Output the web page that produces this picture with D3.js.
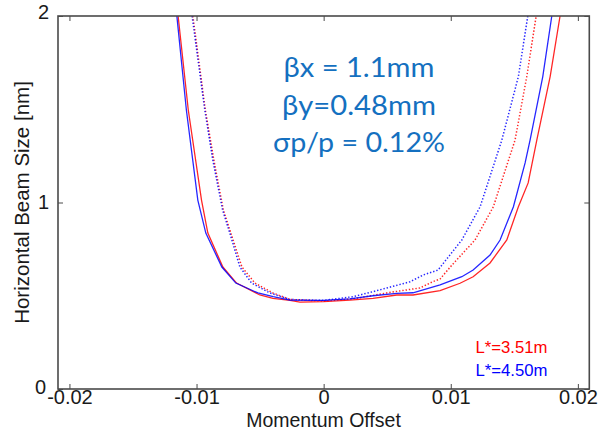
<!DOCTYPE html>
<html>
<head>
<meta charset="utf-8">
<script src="https://cdn.jsdelivr.net/npm/d3@7"></script>
<style>
  html, body { margin: 0; padding: 0; background: #fff; }
  svg { display: block; }
</style>
</head>
<body>
<svg id="chart" width="599" height="430"></svg>
<script>
// Momentum offset (x) and horizontal beam size in nm (y) for each configuration.
const redSolidX = [-0.01145, -0.01065, -0.00961, -0.00911, -0.00793, -0.00685, -0.00502, -0.00399, -0.00265, -0.00187, 0, 0.00207, 0.00388, 0.00575, 0.00703, 0.00916, 0.01073, 0.01176, 0.01309, 0.01441, 0.01532, 0.01609, 0.01677, 0.01782, 0.01860];
const redSolidY = [2.000, 1.496, 1.013, 0.836, 0.654, 0.568, 0.504, 0.486, 0.475, 0.466, 0.469, 0.477, 0.486, 0.504, 0.504, 0.527, 0.567, 0.602, 0.676, 0.799, 0.977, 1.105, 1.335, 1.675, 2.000];

const blueSolidX = [-0.01155, -0.01080, -0.00990, -0.00927, -0.00801, -0.00691, -0.00517, -0.00397, -0.00265, 0, 0.00207, 0.00388, 0.00575, 0.00703, 0.00916, 0.01087, 0.01176, 0.01309, 0.01388, 0.01493, 0.01585, 0.01624, 0.01724, 0.01795];
const blueSolidY = [2.000, 1.496, 1.013, 0.836, 0.654, 0.568, 0.515, 0.495, 0.477, 0.475, 0.483, 0.500, 0.513, 0.516, 0.558, 0.602, 0.638, 0.718, 0.799, 0.977, 1.212, 1.335, 1.675, 2.000];

const redDotX = [-0.01029, -0.00931, -0.00864, -0.00789, -0.00730, -0.00643, -0.00541, -0.00399, -0.00265, 0, 0.00231, 0.00496, 0.00758, 0.00861, 0.00916, 0.01010, 0.01191, 0.01335, 0.01506, 0.01598, 0.01672];
const redDotY = [2.000, 1.496, 1.228, 0.960, 0.836, 0.654, 0.568, 0.515, 0.480, 0.472, 0.483, 0.515, 0.542, 0.576, 0.590, 0.665, 0.799, 0.977, 1.335, 1.675, 2.000];

const blueDotX = [-0.01035, -0.00935, -0.00872, -0.00795, -0.00738, -0.00659, -0.00567, -0.00423, -0.00265, 0, 0.00231, 0.00388, 0.00680, 0.00782, 0.00900, 0.01087, 0.01231, 0.01402, 0.01532, 0.01606];
const blueDotY = [2.000, 1.496, 1.228, 0.960, 0.836, 0.654, 0.568, 0.515, 0.480, 0.475, 0.495, 0.522, 0.575, 0.611, 0.638, 0.799, 0.977, 1.335, 1.675, 2.000];

const xTicks = [-0.02, -0.01, 0, 0.01, 0.02];
const xTickLabels = ["-0.02", "-0.01", "0", "0.01", "0.02"];
const yTicks = [0, 1, 2];
const yTickLabels = ["0", "1", "2"];

const legendLabels = ["L*=3.51m", "L*=4.50m"];
const noteLines = ["βx = 1.1mm", "βy=0.48mm", "σp/p = 0.12%"];

const svg = d3.select("#chart");
const plotLeft = 58, plotRight = 589.3, plotTop = 16, plotBottom = 389;

const x = d3.scaleLinear().domain([-0.0209, 0.0209]).range([plotLeft, plotRight]);
const y = d3.scaleLinear().domain([0, 2]).range([plotBottom, plotTop]);

const RED = "#ff0000", BLUE = "#0000ff", AXIS = "#4a4a4a";

svg.append("defs").append("clipPath").attr("id", "plotClip")
  .append("rect").attr("x", plotLeft).attr("y", plotTop)
  .attr("width", plotRight - plotLeft).attr("height", plotBottom - plotTop);

// Curves
const line = d3.line().x(d => x(d[0])).y(d => y(d[1])).curve(d3.curveLinear);
const series = [
  { xs: redDotX, ys: redDotY, color: RED, dash: "1.4,1.9" },
  { xs: blueDotX, ys: blueDotY, color: BLUE, dash: "1.4,1.9" },
  { xs: redSolidX, ys: redSolidY, color: RED, dash: null },
  { xs: blueSolidX, ys: blueSolidY, color: BLUE, dash: null }
];
const plot = svg.append("g").attr("clip-path", "url(#plotClip)");
series.forEach(s => {
  plot.append("path")
    .datum(s.xs.map((v, i) => [v, s.ys[i]]))
    .attr("d", line)
    .attr("fill", "none")
    .attr("stroke", s.color)
    .attr("stroke-width", s.dash ? 1.5 : 1.3)
    .attr("stroke-dasharray", s.dash)
    .attr("stroke-opacity", 0.85);
});

// Axes: ticks point inward on all four sides, labels on bottom and left
const tickFont = "'Liberation Sans', Arial, Helvetica, sans-serif";
const xBottom = d3.axisBottom(x).tickValues(xTicks).tickSizeInner(-5).tickSizeOuter(0)
  .tickFormat((d, i) => xTickLabels[i]).tickPadding(1);
const xTop = d3.axisTop(x).tickValues(xTicks).tickSizeInner(-5).tickSizeOuter(0).tickFormat("");
const yLeft = d3.axisLeft(y).tickValues(yTicks).tickSizeInner(-5).tickSizeOuter(0)
  .tickFormat((d, i) => yTickLabels[i]).tickPadding(9);
const yRight = d3.axisRight(y).tickValues(yTicks).tickSizeInner(-5).tickSizeOuter(0).tickFormat("");

function styleAxis(g) {
  g.select(".domain").remove();
  g.selectAll(".tick line").attr("stroke", AXIS).attr("stroke-width", 1);
  g.selectAll(".tick text").attr("fill", "#1a1a1a")
    .style("font-family", tickFont).style("font-size", "20px");
}
svg.append("g").attr("transform", `translate(0,${plotBottom})`).call(xBottom).call(styleAxis);
svg.append("g").attr("transform", `translate(0,${plotTop})`).call(xTop).call(styleAxis);
svg.append("g").attr("transform", `translate(${plotLeft},0)`).call(yLeft).call(styleAxis)
  .selectAll(".tick text")
  .attr("x", d => d === 0 ? -12 : -9)
  .attr("dy", d => d === 2 ? "0.1em" : d === 0 ? "0.2em" : "0.32em");
svg.append("g").attr("transform", `translate(${plotRight},0)`).call(yRight).call(styleAxis);

// Frame
svg.append("rect")
  .attr("x", plotLeft).attr("y", plotTop)
  .attr("width", plotRight - plotLeft).attr("height", plotBottom - plotTop)
  .attr("fill", "none").attr("stroke", AXIS).attr("stroke-width", 1.6);

// Axis titles
svg.append("text")
  .attr("x", 323.5).attr("y", 426.5)
  .attr("text-anchor", "middle")
  .style("font-family", tickFont).style("font-size", "19.5px").attr("fill", "#1a1a1a")
  .text("Momentum Offset");
svg.append("text")
  .attr("transform", `translate(29,${(plotTop + plotBottom) / 2}) rotate(-90)`)
  .attr("text-anchor", "middle")
  .style("font-family", tickFont).style("font-size", "20.5px").attr("fill", "#1a1a1a")
  .text("Horizontal Beam Size [nm]");

// Beam parameters
const noteWidths = [151, 154, 172];
const noteBase = [77, 114.5, 152];
noteLines.forEach((t, i) => {
  svg.append("text")
    .attr("x", 359).attr("y", noteBase[i])
    .attr("text-anchor", "middle")
    .attr("textLength", noteWidths[i]).attr("lengthAdjust", "spacingAndGlyphs")
    .style("font-family", "Lato, 'Open Sans', sans-serif").style("font-size", "26px")
    .attr("fill", "#1470c0")
    .text(t);
});

// Legend
const legendColors = [RED, BLUE];
const legendBase = [353.3, 375.5];
legendLabels.forEach((t, i) => {
  svg.append("text")
    .attr("x", 475.5).attr("y", legendBase[i])
    .attr("textLength", 72).attr("lengthAdjust", "spacingAndGlyphs")
    .style("font-family", tickFont).style("font-size", "17px")
    .attr("fill", legendColors[i])
    .text(t);
});
</script>
</body>
</html>
